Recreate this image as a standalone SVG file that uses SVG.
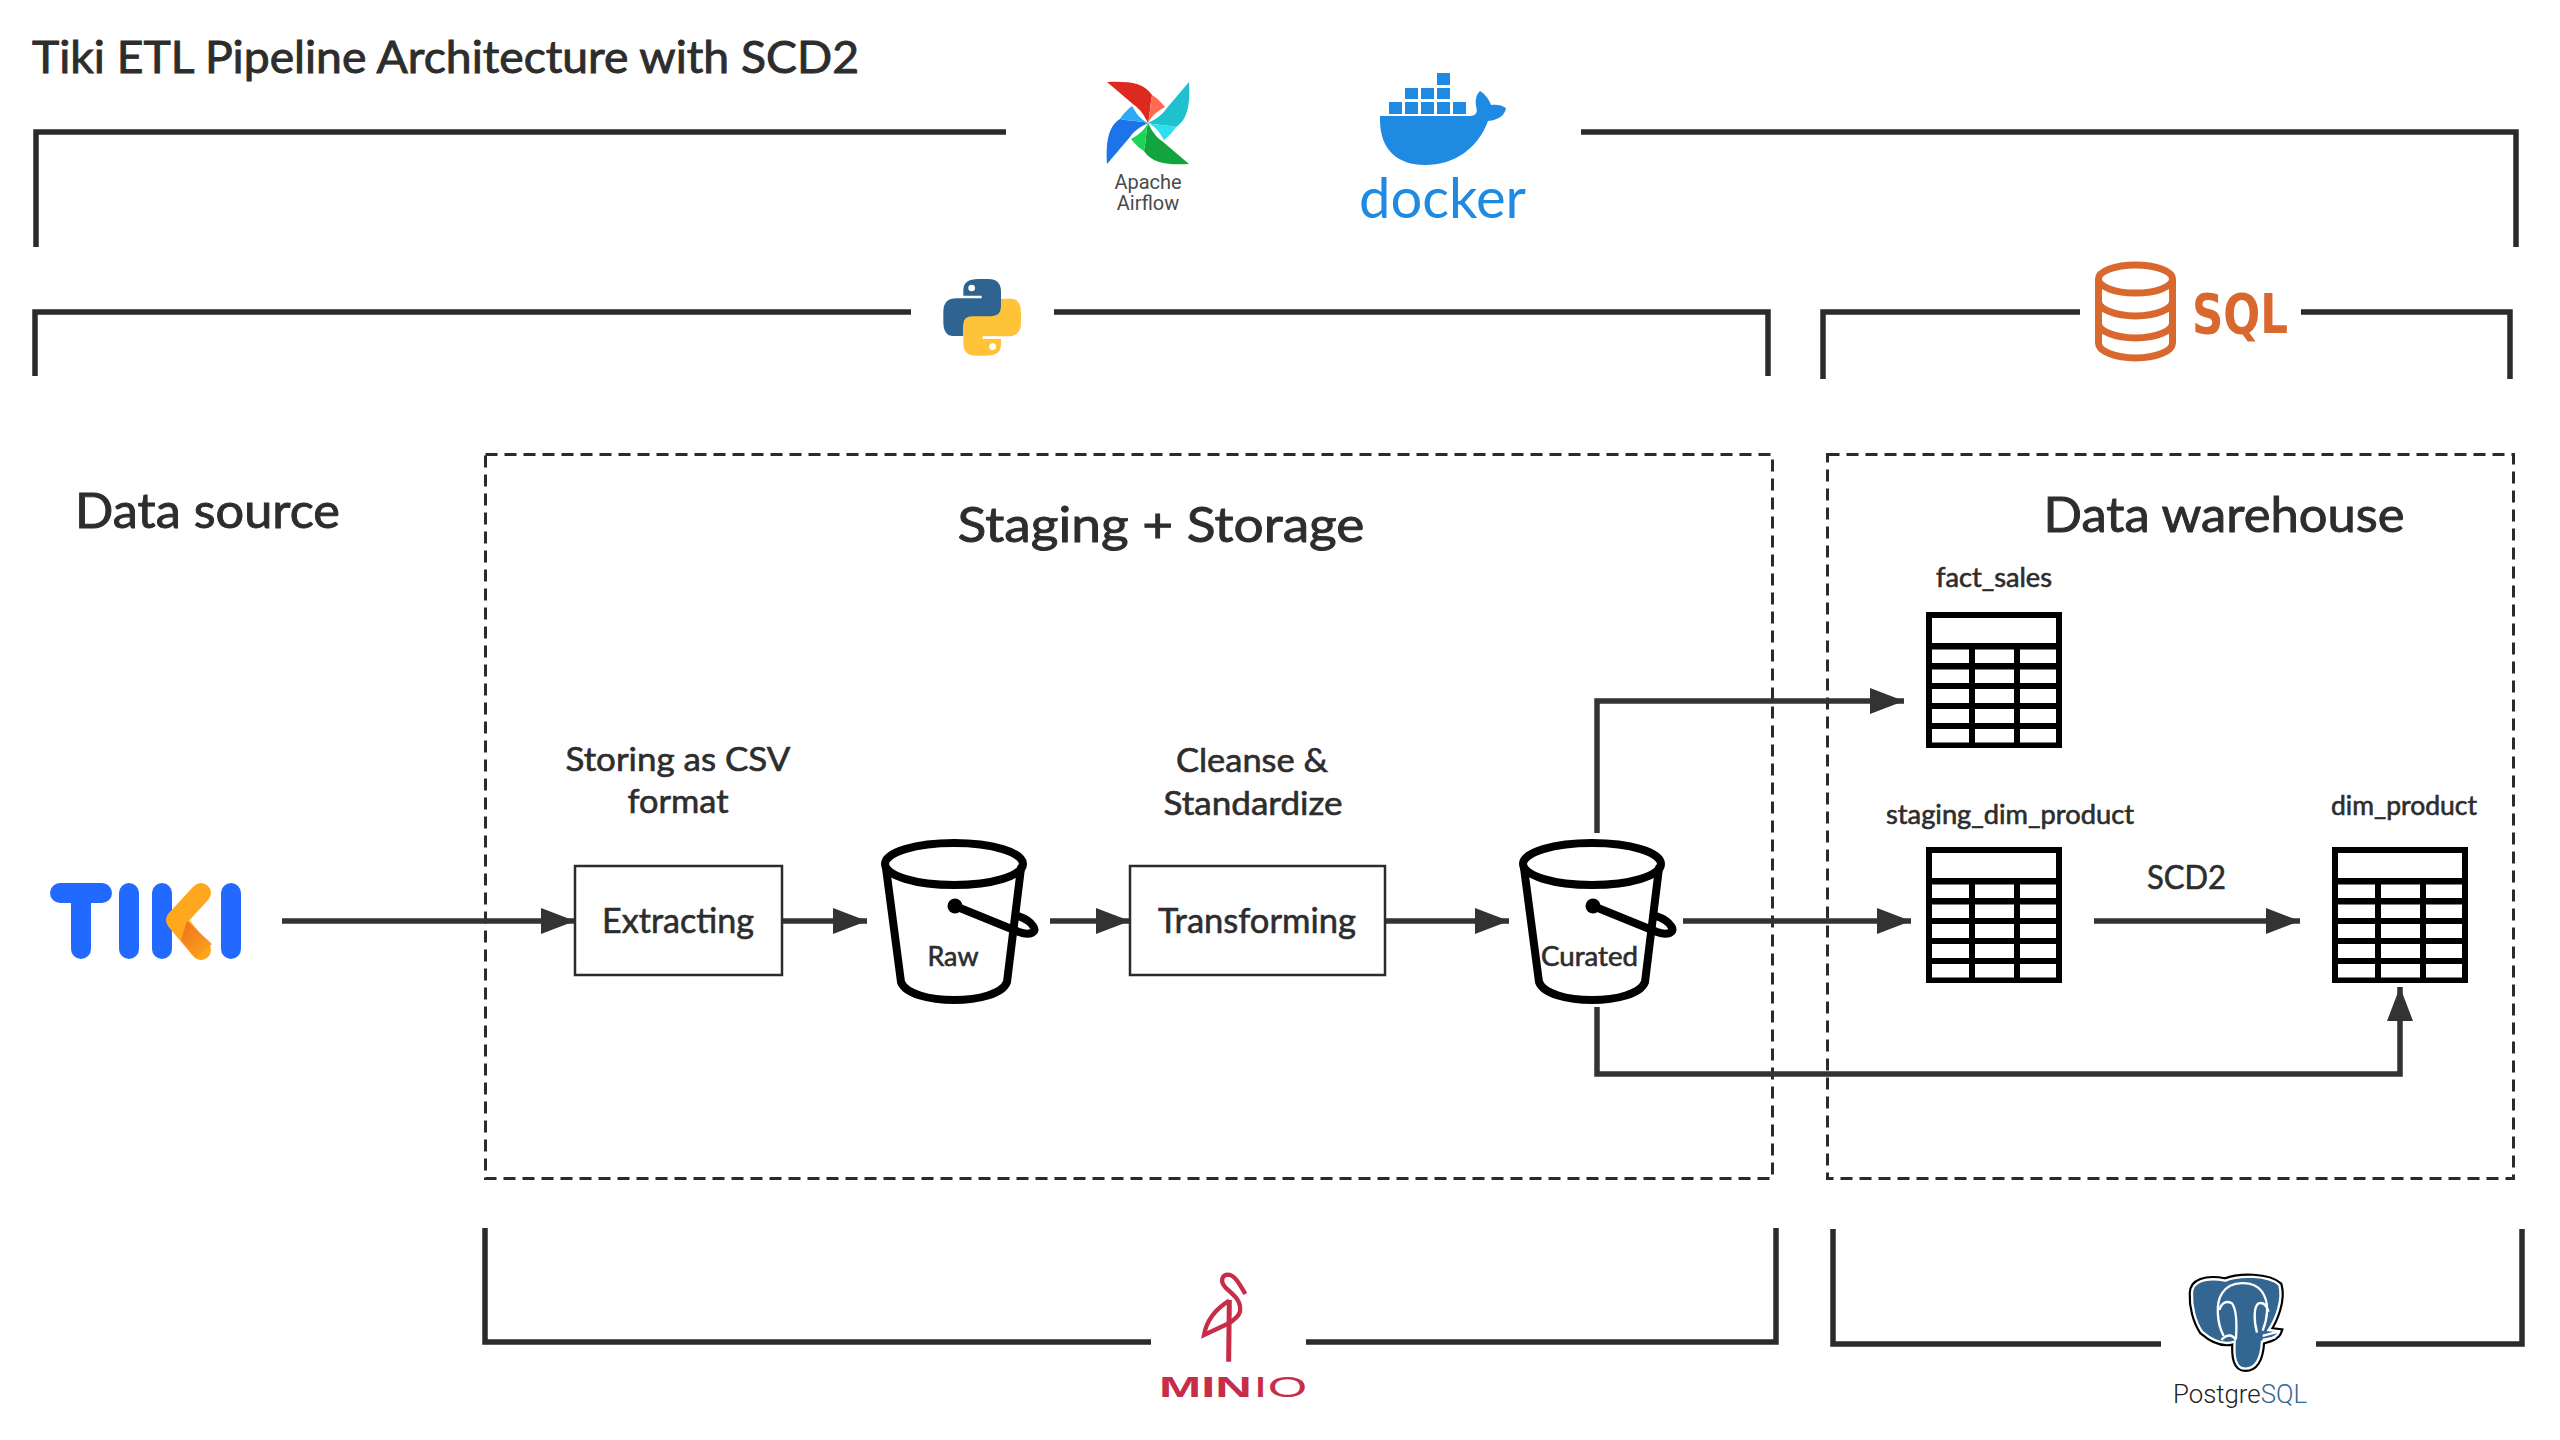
<svg xmlns="http://www.w3.org/2000/svg" xmlns:xlink="http://www.w3.org/1999/xlink" width="2560" height="1440" viewBox="0 0 2560 1440">
<style>
text{font-family:"Lato","Liberation Sans",sans-serif;fill:#2d2d2d;stroke:#2d2d2d;stroke-width:.6}
.logo{stroke:none}
.m{text-anchor:middle}
.br{fill:none;stroke:#2b2b2b;stroke-width:5.5;stroke-linejoin:miter}
.dash{fill:none;stroke:#2b2b2b;stroke-width:3;stroke-dasharray:12 7}
.box{fill:#fff;stroke:#2b2b2b;stroke-width:2.5}
.con{fill:none;stroke:#333;stroke-width:5.5}
.bk{fill:none;stroke:#000;stroke-width:8;stroke-linejoin:round;stroke-linecap:round}
.tb{fill:#000}
.doc{fill:#1f8ae2}
.sqlc{fill:none;stroke:#d9682f;stroke-width:7}
.fl{fill:none;stroke:#c72c48;stroke-width:13}
</style>
<defs>
<marker id="ah" viewBox="0 0 34 26" refX="34" refY="13" markerWidth="34" markerHeight="26" markerUnits="userSpaceOnUse" orient="auto"><path d="M0 0L34 13L0 26Z" fill="#333"/></marker>
<linearGradient id="kg" x1="0" y1="0" x2="1" y2="1"><stop offset="0" stop-color="#ef6f1c"/><stop offset="1" stop-color="#ffa81e"/></linearGradient>
<g id="bucket">
<ellipse cx="1592" cy="864" rx="69" ry="21" class="bk"/>
<path d="M1524 868L1539 982C1548 1006 1636 1006 1645 982L1659 868" class="bk"/>
<circle cx="1593" cy="906" r="7.5" fill="#000"/>
<path d="M1593 906L1657 932C1668 936 1676 932 1671 926C1668 921 1662 918 1656 916" class="bk"/>
</g>
<g id="table">
<path class="tb" fill-rule="evenodd" d="M0 0H136V136H0ZM6 6V31H130V6ZM6 37.500V51H43V37.500ZM49 37.500V51H88V37.500ZM94 37.500V51H130V37.500ZM6 57.500V71H43V57.500ZM49 57.500V71H88V57.500ZM94 57.500V71H130V57.500ZM6 77V91H43V77ZM49 77V91H88V77ZM94 77V91H130V77ZM6 97V111H43V97ZM49 97V111H88V97ZM94 97V111H130V97ZM6 117V130.500H43V117ZM49 117V130.500H88V117ZM94 117V130.500H130V117Z"/>
</g>
<g id="blade">
<path d="M-41 -41C-22 -42 -4 -41 4 -28C2 -18 2 -8 0 0C-4 -8 -8 -14 -14 -18Z"/>
</g>
<path id="bladeL" d="M4 -28C8 -26 14 -20 17 -16C10 -12 4 -8 0 0C2 -8 2 -18 4 -28Z"/>
<path id="py" d="M175 57H205Q243 57 243 95V150Q243 175 215 175H160Q130 175 130 205V228H100Q70 228 70 185V155Q70 115 110 115H185V107H130V90Q130 57 175 57Z"/>
<path id="pgb" d="M150 100C150 65 190 50 250 62C290 45 380 45 412 75C425 120 400 180 380 210L412 214C405 235 375 240 360 245C358 280 350 326 310 326C280 326 275 290 278 245C250 255 215 245 180 215C160 185 148 140 150 100Z"/>
</defs>

<text x="32" y="73" font-size="44" textLength="827" lengthAdjust="spacingAndGlyphs" style="stroke-width:.9">Tiki ETL Pipeline Architecture with SCD2</text>

<g id="brackets">
<path class="br" d="M36 247V132H1006"/>
<path class="br" d="M1581 132H2516V247"/>
<path class="br" d="M35 376V312H911"/>
<path class="br" d="M1054 312H1768V376"/>
<path class="br" d="M1823 379V312H2080"/>
<path class="br" d="M2301 312H2510V379"/>
<path class="br" d="M485 1228V1342H1151"/>
<path class="br" d="M1306 1342H1776V1228"/>
<path class="br" d="M1833 1229V1344H2161"/>
<path class="br" d="M2316 1344H2522V1229"/>
</g>

<g id="group-staging">
<rect class="dash" x="485.500" y="454.500" width="1287" height="724"/>
<text class="m" x="1161" y="542" font-size="49" textLength="407" lengthAdjust="spacingAndGlyphs" style="stroke-width:.9">Staging + Storage</text>
</g>
<g id="group-warehouse">
<rect class="dash" x="1827.500" y="454.500" width="686" height="724"/>
<text class="m" x="2224" y="532" font-size="48" textLength="361" lengthAdjust="spacingAndGlyphs" style="stroke-width:.9">Data warehouse</text>
</g>
<text id="label-source" x="75" y="528" font-size="48" textLength="265" lengthAdjust="spacingAndGlyphs" style="stroke-width:.9">Data source</text>

<g id="connectors">
<path class="con" d="M282 921H575" marker-end="url(#ah)"/>
<path class="con" d="M782 921H867" marker-end="url(#ah)"/>
<path class="con" d="M1050 921H1130" marker-end="url(#ah)"/>
<path class="con" d="M1386 921H1509" marker-end="url(#ah)"/>
<path class="con" d="M1683 921H1911" marker-end="url(#ah)"/>
<path class="con" d="M1597 833V701H1904" marker-end="url(#ah)"/>
<path class="con" d="M1597 1007V1074H2400V987" marker-end="url(#ah)"/>
<path class="con" d="M2094 921H2300" marker-end="url(#ah)"/>
</g>

<g id="node-tiki">
<path d="M60 893H102M81 893V949M129 893V949M162 893V949M231 893V949" fill="none" stroke="#2269ff" stroke-width="20" stroke-linecap="round"/>
<path d="M201 893L176 920L201 950" fill="none" stroke="#ffa81e" stroke-width="20" stroke-linecap="round" stroke-linejoin="round"/>
<path d="M187 921L212 944L196 958L181 940Z" fill="url(#kg)"/>
</g>
<g id="node-extracting">
<rect class="box" x="575" y="866" width="207" height="109"/>
<text class="m" x="678" y="933" font-size="35" textLength="152" lengthAdjust="spacingAndGlyphs">Extracting</text>
<text class="m" x="678" y="771" font-size="33" textLength="225" lengthAdjust="spacingAndGlyphs">Storing as CSV</text>
<text class="m" x="678" y="813" font-size="33" textLength="101" lengthAdjust="spacingAndGlyphs">format</text>
</g>
<g id="node-raw">
<use href="#bucket" xlink:href="#bucket" x="-638"/>
<text class="m" x="953" y="966" font-size="26" textLength="51" lengthAdjust="spacingAndGlyphs">Raw</text>
</g>
<g id="node-transforming">
<rect class="box" x="1130" y="866" width="255" height="109"/>
<text class="m" x="1257" y="933" font-size="35" textLength="198" lengthAdjust="spacingAndGlyphs">Transforming</text>
<text class="m" x="1252" y="772" font-size="33" textLength="152" lengthAdjust="spacingAndGlyphs">Cleanse &amp;</text>
<text class="m" x="1253" y="815" font-size="33" textLength="179" lengthAdjust="spacingAndGlyphs">Standardize</text>
</g>
<g id="node-curated">
<use href="#bucket" xlink:href="#bucket"/>
<text class="m" x="1589.500" y="966" font-size="26" textLength="97" lengthAdjust="spacingAndGlyphs">Curated</text>
</g>
<g id="node-fact-sales">
<use href="#table" xlink:href="#table" x="1926" y="612"/>
<text class="m" x="1994" y="587" font-size="26" textLength="116" lengthAdjust="spacingAndGlyphs">fact_sales</text>
</g>
<g id="node-staging-dim-product">
<use href="#table" xlink:href="#table" x="1926" y="847"/>
<text class="m" x="2010" y="824" font-size="26" textLength="248" lengthAdjust="spacingAndGlyphs">staging_dim_product</text>
</g>
<g id="node-dim-product">
<use href="#table" xlink:href="#table" x="2332" y="847"/>
<text class="m" x="2404" y="815" font-size="26" textLength="146" lengthAdjust="spacingAndGlyphs">dim_product</text>
</g>
<text id="label-scd2" class="m" x="2186.500" y="889" font-size="32" textLength="79" lengthAdjust="spacingAndGlyphs">SCD2</text>

<g id="logo-airflow">
<g transform="translate(1148 123)">
<use href="#blade" xlink:href="#blade" fill="#dc2a20"/><use href="#bladeL" xlink:href="#bladeL" fill="#ff6a50"/>
<g transform="rotate(90)"><use href="#blade" xlink:href="#blade" fill="#20c1cf"/><use href="#bladeL" xlink:href="#bladeL" fill="#2ee0ee"/></g>
<g transform="rotate(180)"><use href="#blade" xlink:href="#blade" fill="#13a33f"/><use href="#bladeL" xlink:href="#bladeL" fill="#1ed35a"/></g>
<g transform="rotate(270)"><use href="#blade" xlink:href="#blade" fill="#1d73e8"/><use href="#bladeL" xlink:href="#bladeL" fill="#2ea9f5"/></g>
</g>
<text class="m logo" x="1148" y="189" style="font-family:Roboto,sans-serif;fill:#4a4a4a" font-size="20">Apache</text>
<text class="m logo" x="1148" y="209.500" style="font-family:Roboto,sans-serif;fill:#4a4a4a" font-size="20">Airflow</text>
</g>
<g id="logo-docker">
<path class="doc" d="M1389 102h13v12h-13zM1405 102h13v12h-13zM1421 102h13v12h-13zM1437 102h13v12h-13zM1453 102h13v12h-13zM1405 88h13v11h-13zM1421 88h13v11h-13zM1437 88h13v11h-13zM1437 73h13v12h-13z"/>
<path class="doc" d="M1380 116L1470 116C1476 116 1478 112 1476 106C1475 98 1477 94 1480 91C1485 94 1489 99 1491 105C1496 104 1502 105 1506 108C1505 115 1499 120 1488 121C1478 148 1455 165 1425 165C1398 165 1380 150 1380 120Z"/>
<text class="logo" x="1359" y="218" style="fill:#1f8ae2" font-size="56" textLength="167" lengthAdjust="spacingAndGlyphs">docker</text>
</g>
<g id="logo-python" transform="translate(920 260) scale(.3333)">
<use href="#py" xlink:href="#py" fill="#2f6491"/>
<use href="#py" xlink:href="#py" fill="#ffc33a" transform="rotate(180 186.500 172)"/>
<circle cx="155" cy="84" r="10" fill="#fff"/>
<circle cx="218" cy="260" r="10" fill="#fff"/>
</g>
<g id="logo-sql">
<ellipse class="sqlc" cx="2135.500" cy="279" rx="37" ry="14"/>
<path class="sqlc" d="M2098.500 279V343A37 15 0 0 0 2172.500 343V279M2098.500 301A37 15 0 0 0 2172.500 301M2098.500 323A37 15 0 0 0 2172.500 323"/>
<text class="logo" x="2192" y="333" style="font-family:'DejaVu Sans',sans-serif;fill:#d9682f" font-size="55" font-weight="700" textLength="96" lengthAdjust="spacingAndGlyphs">SQL</text>
</g>
<g id="logo-minio">
<g transform="translate(1140 1250) scale(.3333)">
<path class="fl" d="M316 132C300 105 285 75 265 74C245 74 240 95 256 112C280 135 305 150 300 185C296 200 280 212 262 222L192 255C200 210 230 175 268 152"/>
<path class="fl" d="M268 150L266 335" style="stroke-width:15"/>
</g>
<text class="logo" transform="translate(1159 1397) scale(1.69 1)" style="font-family:'Liberation Sans',sans-serif;fill:#c72c48" font-size="30"><tspan font-weight="700">MIN</tspan><tspan font-weight="400" dx="1">IO</tspan></text>
</g>
<g id="logo-postgres">
<g transform="translate(2142 1260) scale(.3333)">
<use href="#pgb" xlink:href="#pgb" fill="none" stroke="#000" stroke-width="20"/>
<use href="#pgb" xlink:href="#pgb" fill="#336791" stroke="#fff" stroke-width="7"/>
<path fill="none" stroke="#fff" stroke-width="7" d="M245 228C225 190 220 130 240 100C265 60 335 60 360 95C385 130 375 180 362 212M282 236C285 190 285 150 270 130C250 120 238 130 232 150M345 218C335 180 335 140 350 130C365 125 375 140 380 155M238 240C255 222 270 222 282 240M362 228L412 214M362 240L400 232"/>
</g>
<text class="logo" x="2173" y="1403" style="font-family:Roboto,'Liberation Sans',sans-serif;font-weight:300;fill:#222" font-size="26" textLength="134" lengthAdjust="spacingAndGlyphs">Postgre<tspan style="fill:#336791">SQL</tspan></text>
</g>
</svg>
